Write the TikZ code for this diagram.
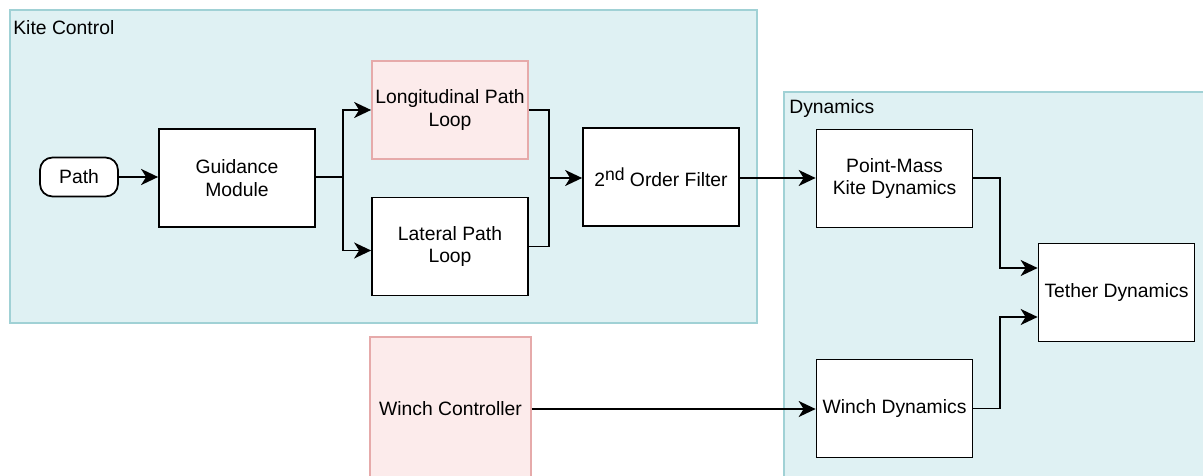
\documentclass[tikz,border=0pt]{standalone}
\usepackage{fontspec}
\setmainfont{Liberation Sans}
\usetikzlibrary{arrows.meta, calc}
\definecolor{grpfill}{HTML}{DFF1F3}
\definecolor{grpline}{HTML}{A0D1D5}
\definecolor{ctlfill}{HTML}{FCEBEB}
\definecolor{ctlline}{HTML}{E6AAAA}

\tikzset{
  block/.style={draw, line width=1pt, fill=white, inner sep=0pt, align=center,
    minimum width=3.12cm, minimum height=1.96cm},
  ctlblock/.style={block, draw=ctlline, fill=ctlfill},
  group/.style={draw=grpline, line width=1pt, fill=grpfill, inner sep=0pt},
  sig/.style={line width=1pt, -{Stealth[length=0.34cm, width=0.32cm, inset=0.1cm]}},
  wire/.style={line width=1pt}
}

\begin{document}
\begin{tikzpicture}[x=0.02cm, y=-0.02cm, font=\fontsize{11}{13}\selectfont]
    \useasboundingbox (0,0) rectangle (1203,476);
    % Gruppen
    \node[group, minimum width=14.94cm, minimum height=6.26cm] (kc) at (383.5,166.5) {};
    \node[anchor=west, inner sep=0pt] (kctitle) at (13,28) {Kite Control};
    \node[group, minimum width=8.72cm, minimum height=8.16cm] (dyn) at (1002,296) {};
    \node[anchor=west, inner sep=0pt] (dyntitle) at (789,109) {Dynamics};
    % Regelung
    \node[draw, line width=1pt, fill=white, rounded corners=0.25cm, minimum width=1.56cm,
      minimum height=0.78cm, inner sep=0pt] (path) at (79,177) {Path};
    \node[block] (guid) at (237,178) {Guidance\\Module};
    \node[ctlblock] (lon) at (450,110) {Longitudinal Path\\Loop};
    \node[block] (lat) at (450,246.5) {Lateral Path\\Loop};
    \node[block] (filt) at (661,177) {2\raisebox{0.6ex}{\fontsize{10}{10}\selectfont nd} Order Filter};
    \node[ctlblock, minimum width=3.22cm, minimum height=2.88cm] (wctl) at (450.5,409) {Winch Controller};
    % Dynamik
    \node[block] (pm) at (894.5,178.5) {Point-Mass\\Kite Dynamics};
    \node[block] (wdyn) at (894.5,408.5) {Winch Dynamics};
    \node[block] (teth) at (1116.5,292.5) {Tether Dynamics};
    % Verbindungen
    \coordinate (split) at (343,177);
    \coordinate (join) at (549,178);
    \coordinate (merge) at (1000,292.5);
    \draw[sig, line width=1.6pt] (path) -- (guid.west |- path);
    \draw[wire] (guid.east |- split) -- (split);
    \draw[sig] (split) |- (lon.west);
    \draw[sig] (split) |- ($(lat.west)+(0,4)$);
    \draw[wire] (lon.east) -| (join);
    \draw[wire] (lat.east) -| (join);
    \draw[sig] (join) -- (filt.west |- join);
    \draw[sig] (filt.east |- join) -- (pm.west |- join);
    \draw[sig] (wctl.east) -- (wdyn.west |- wctl.east);
    \draw[sig] (pm.east |- join) -| (merge |- join) |- ($(teth.west)+(0,-24.5)$);
    \draw[sig] (wdyn.east) -| (merge |- wdyn.east) |- ($(teth.west)+(0,24.5)$);
\end{tikzpicture}
\end{document}
